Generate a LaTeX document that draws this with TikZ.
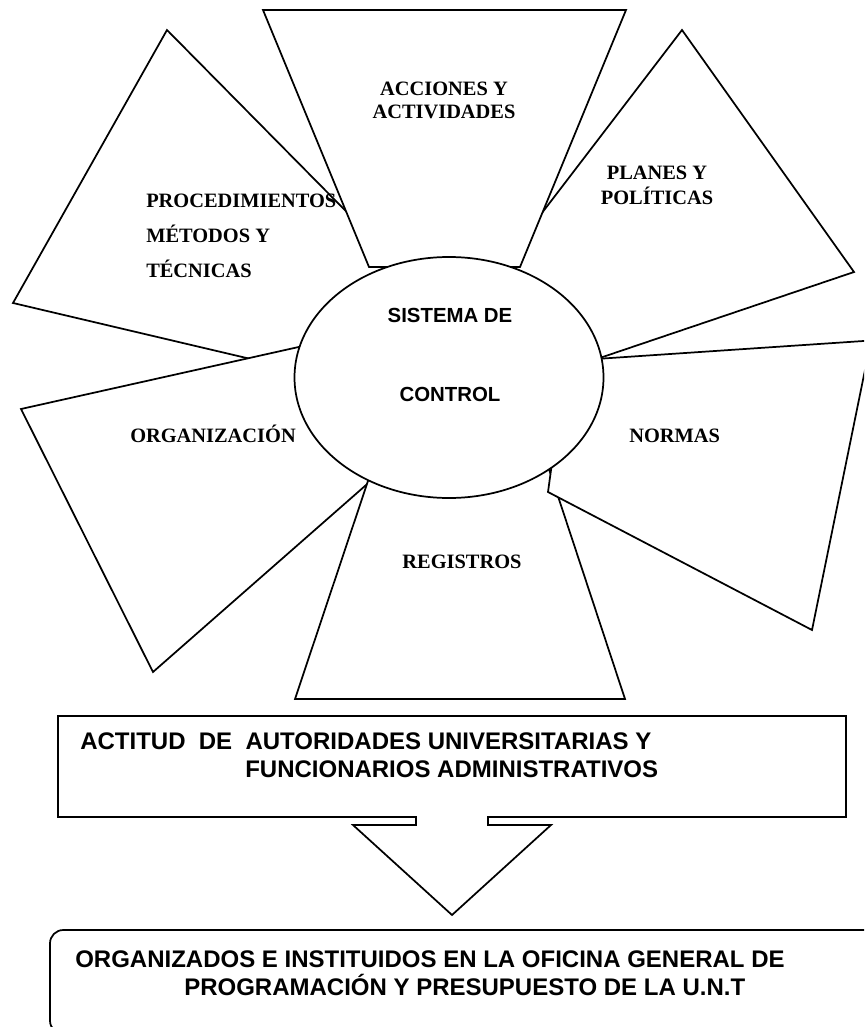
\documentclass[tikz,border=0pt]{standalone}
\usepackage{fontspec}
\setmainfont{Liberation Serif}
\setsansfont{Liberation Sans}
\usetikzlibrary{shapes.geometric}

\tikzset{
  petal/.style={draw=black, fill=white, line width=1.3pt, line join=miter},
  tlbl/.style={inner sep=0pt, font=\rmfamily\bfseries\fontsize{15.3}{17.5}\selectfont},
  slbl/.style={inner sep=0pt, font=\sffamily\bfseries\fontsize{15.3}{17.5}\selectfont},
  blbl/.style={inner sep=0pt, font=\sffamily\bfseries\fontsize{18}{20.5}\selectfont},
}

\begin{document}
\begin{tikzpicture}[x=0.75pt, y=-0.75pt]
\useasboundingbox (0,0) rectangle (864,1027);
\clip (0,0) rectangle (864,1027);

% petals around the central ellipse, back to front
\draw[petal] (167,30) -- (13,303) -- (565,433) -- cycle;            % procedimientos
\draw[petal] (682,30) -- (854,272) -- (372,435) -- cycle;           % planes
\draw[petal] (263,10) -- (626,10) -- (520,267) -- (369,267) -- cycle; % acciones
\draw[petal] (21,409) -- (330,340) -- (390,464) -- (153,672) -- cycle; % organizacion
\draw[petal] (295,699) -- (375,460) -- (546,460) -- (625,699) -- cycle; % registros
\draw[petal] (566,361) -- (871,340.5) -- (812,630) -- (548,492) -- cycle; % normas

% central ellipse
\node[ellipse, petal, minimum width=231.75pt, minimum height=180.75pt, inner sep=0pt] (ctl) at (449,377.5) {};

% petal labels
\node[tlbl, anchor=base west] (proc1) at (146,207) {PROCEDIMIENTOS};
\node[tlbl, anchor=base west] (proc2) at (146,242) {MÉTODOS Y};
\node[tlbl, anchor=base west] (proc3) at (146,277) {TÉCNICAS};
\node[tlbl, anchor=base] (acc1) at (444,96) {ACCIONES Y};
\node[tlbl, anchor=base] (acc2) at (444,119) {ACTIVIDADES};
\node[tlbl, anchor=base] (pla1) at (657,180) {PLANES Y};
\node[tlbl, anchor=base] (pla2) at (657,204) {POLÍTICAS};
\node[slbl, anchor=base] (sis1) at (450,322) {SISTEMA DE};
\node[slbl, anchor=base] (sis2) at (450,401) {CONTROL};
\node[tlbl, anchor=base west] (org) at (130,442) {ORGANIZACIÓN};
\node[tlbl, anchor=base west] (nor) at (629,442) {NORMAS};
\node[tlbl, anchor=base] (reg) at (462,568) {REGISTROS};

% down-arrow callout box
\draw[petal] (58,716) -- (846,716) -- (846,817) -- (488,817) -- (488,825)
  -- (551,825) -- (452,915) -- (353,825) -- (416,825) -- (416,817)
  -- (58,817) -- cycle;
\node[blbl, anchor=base west] (act1) at (80,749) {ACTITUD\ \ DE\ \ AUTORIDADES UNIVERSITARIAS Y};
\node[blbl, anchor=base west] (act2) at (245,777) {FUNCIONARIOS ADMINISTRATIVOS};

% rounded result box
\draw[petal, rounded corners=10pt] (50,930) rectangle (885,1034);
\node[blbl, anchor=base west] (ofi1) at (75,967) {ORGANIZADOS E INSTITUIDOS EN LA OFICINA GENERAL DE};
\node[blbl, anchor=base west] (ofi2) at (184,995) {PROGRAMACIÓN Y PRESUPUESTO DE LA U.N.T};
\end{tikzpicture}
\end{document}
